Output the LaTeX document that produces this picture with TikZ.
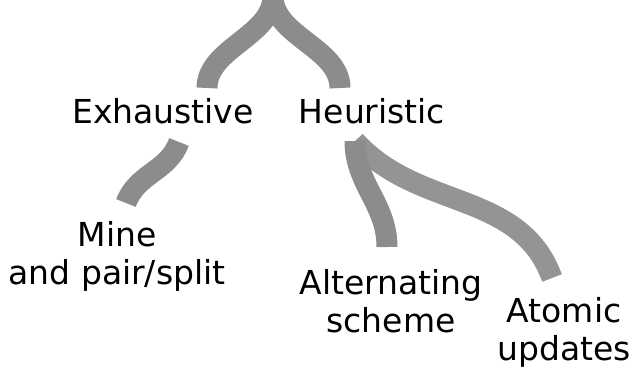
\documentclass[tikz,border=0pt]{standalone}
\usepackage{fontspec}
\setmainfont{DejaVu Sans}
\usetikzlibrary{calc}
\definecolor{branchgray}{RGB}{140,140,140}
\definecolor{branchlight}{RGB}{148,148,148}

\begin{document}
\begin{tikzpicture}[x=1pt,y=-1pt,
		label/.style={inner sep=0pt,align=center,anchor=base,
			font=\fontsize{33}{38}\selectfont},
		branch/.style={line width=21pt,branchgray}]
	
	\useasboundingbox (0,0) rectangle (634,370);
	
	% labels (base = baseline of the last line)
	\node[label] (exh)  at (163,123) {Exhaustive};
	\node[label] (heu)  at (372,123) {Heuristic};
	\node[label] (mine) at (117,284) {Mine\\and pair/split};
	\node[label] (alt)  at (391,332) {Alternating\\scheme};
	\node[label] (atom) at (564,360) {Atomic\\updates};
	
	% ends of the branches
	\coordinate (root)      at (273,-4);
	\coordinate (exh-up)    at ($(exh.base)+(44,-35)$);
	\coordinate (exh-down)  at ($(exh.base)+(16,19)$);
	\coordinate (heu-up)    at ($(heu.base)+(-32,-35)$);
	\coordinate (heu-down)  at ($(heu.base)+(-17,18)$);
	\coordinate (mine-up)   at ($(mine.base)+(9,-81)$);
	\coordinate (alt-up)    at ($(alt.base)+(-4,-85)$);
	\coordinate (atom-up)   at ($(atom.base)+(-12,-82)$);
	
	% top split
	\draw[branch] (root) to[out=-90,in=90,looseness=0.9] (exh-up);
	\draw[branch] (root) to[out=-90,in=90,looseness=0.9] (heu-up);
	
	% exhaustive
	\draw[branch] (exh-down) to[out=-110,in=70] (mine-up);
	
	% heuristic (atomic first, alternating on top)
	\draw[branch,branchlight] (heu-down) to[out=-48,in=110] (atom-up);
	\draw[branch] (heu-down) to[out=-90,in=90] (alt-up);
	
\end{tikzpicture}
\end{document}
